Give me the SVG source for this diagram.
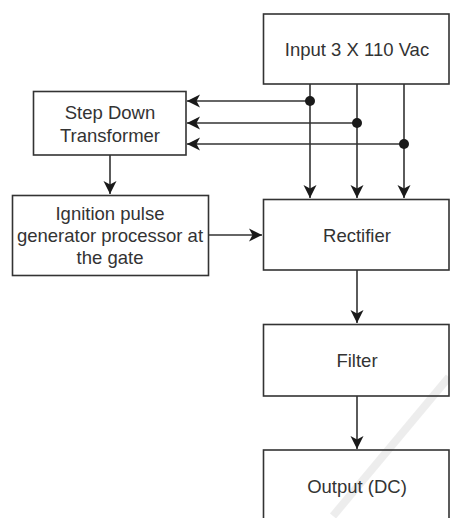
<svg xmlns="http://www.w3.org/2000/svg" width="450" height="518" viewBox="0 0 450 518">
<defs>
<style>
.box{fill:none;stroke:#333;stroke-width:1.6}
.lbl{font-family:"Liberation Sans",Arial,sans-serif;font-size:18.5px;fill:#333;text-anchor:middle}
.wire{fill:none;stroke:#333;stroke-width:1.6}
.dot{fill:#1a1a1a}
</style>
<marker id="arr" viewBox="0 0 14 14" refX="13" refY="7" markerWidth="14" markerHeight="14" markerUnits="userSpaceOnUse" orient="auto">
<path d="M13,7 L0,0.5 L3.5,7 L0,13.5 Z" fill="#1a1a1a"/>
</marker>
</defs>
<rect width="450" height="518" fill="#fff"/>
<line x1="333" y1="516" x2="449" y2="377" stroke="#000" stroke-opacity="0.07" stroke-width="8"/>
<g id="input"><rect class="box" x="263.5" y="14" width="185.5" height="70"/><text class="lbl" x="357" y="56">Input 3 X 110 Vac</text></g>
<g id="stepdown"><rect class="box" x="33.5" y="91.5" width="152.5" height="63.5"/><text class="lbl" x="110" y="119">Step Down</text><text class="lbl" x="110" y="142">Transformer</text></g>
<g id="ignition"><rect class="box" x="12.5" y="195.5" width="196" height="80"/><text class="lbl" x="110" y="220">Ignition pulse</text><text class="lbl" x="110" y="242">generator processor at</text><text class="lbl" x="110" y="264">the gate</text></g>
<g id="rectifier"><rect class="box" x="263.5" y="199.5" width="185.5" height="70.5"/><text class="lbl" x="357" y="242">Rectifier</text></g>
<g id="filter"><rect class="box" x="263.5" y="324.5" width="185.5" height="71.5"/><text class="lbl" x="357" y="367">Filter</text></g>
<g id="output"><rect class="box" x="263.5" y="450" width="185.5" height="80"/><text class="lbl" x="357" y="493">Output (DC)</text></g>
<g id="connectors">
<line class="wire" x1="310" y1="84" x2="310" y2="198" marker-end="url(#arr)"/>
<line class="wire" x1="357" y1="84" x2="357" y2="198" marker-end="url(#arr)"/>
<line class="wire" x1="404" y1="84" x2="404" y2="198" marker-end="url(#arr)"/>
<line class="wire" x1="310" y1="101" x2="187" y2="101" marker-end="url(#arr)"/>
<line class="wire" x1="357" y1="123" x2="187" y2="123" marker-end="url(#arr)"/>
<line class="wire" x1="404" y1="144" x2="187" y2="144" marker-end="url(#arr)"/>
<circle class="dot" cx="310" cy="101" r="5"/>
<circle class="dot" cx="357" cy="123" r="5"/>
<circle class="dot" cx="404" cy="144" r="5"/>
<line class="wire" x1="110" y1="155" x2="110" y2="194" marker-end="url(#arr)"/>
<line class="wire" x1="209" y1="235" x2="262" y2="235" marker-end="url(#arr)"/>
<line class="wire" x1="357" y1="270" x2="357" y2="323" marker-end="url(#arr)"/>
<line class="wire" x1="357" y1="396" x2="357" y2="449" marker-end="url(#arr)"/>
</g>
</svg>
